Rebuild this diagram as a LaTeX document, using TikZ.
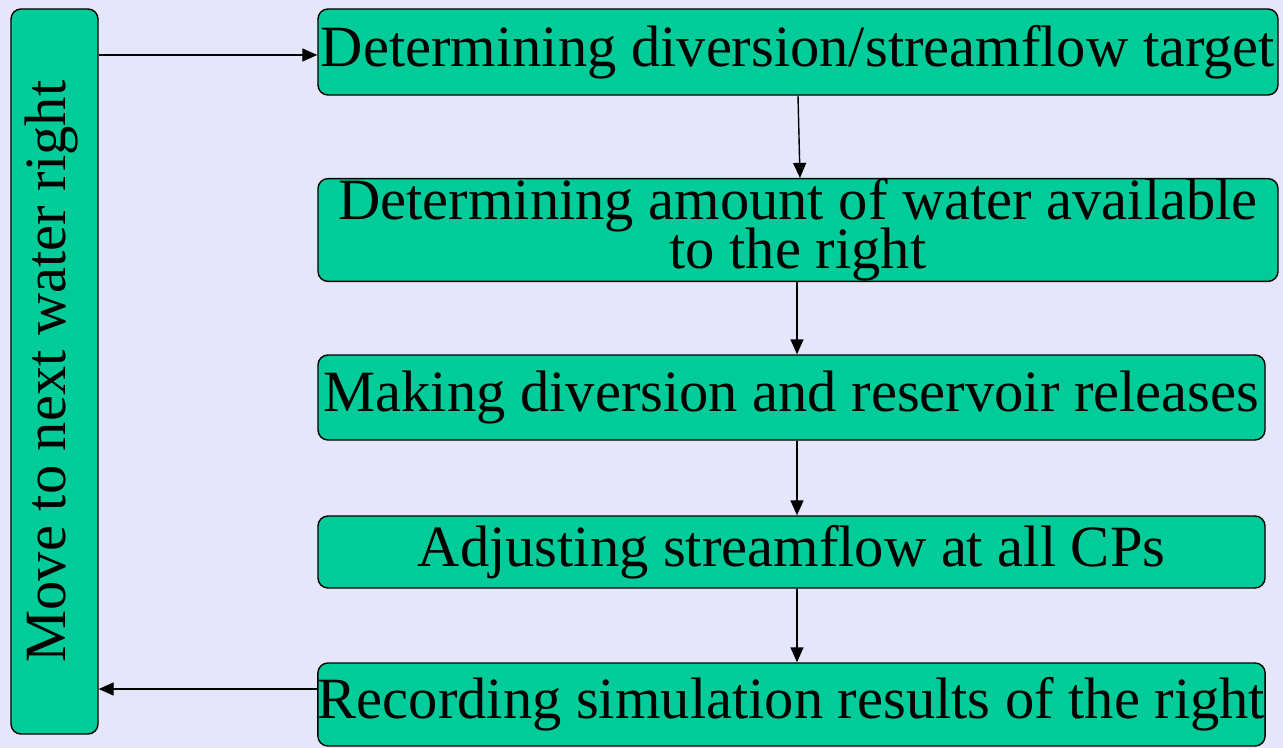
\documentclass[tikz,border=0pt]{standalone}
\usepackage{fontspec}
\setmainfont{Liberation Serif}
\usetikzlibrary{arrows.meta}
\definecolor{bg}{RGB}{230,230,250}
\definecolor{boxfill}{RGB}{0,204,153}
\newcommand{\tightlines}{\lineskiplimit=-100pt\relax}
\begin{document}
\begin{tikzpicture}[x=1bp,y=-1bp,
  stepbox/.style={draw=black,line width=1.4bp,fill=boxfill,rounded corners=10bp,
    inner sep=0pt,align=center,font=\fontsize{58.5bp}{49bp}\selectfont\tightlines},
  conn/.style={line width=1.4bp,-{Triangle[length=15bp,width=13bp]}}]
\fill[bg] (0,0) rectangle (1283,748);
\useasboundingbox (0,0) rectangle (1283,748);
\node[stepbox,minimum width=87bp,minimum height=725bp] (lb) at (54.5,371.5) {};
\node[rotate=90,inner sep=0pt,font=\fontsize{58.5bp}{49bp}\selectfont] (lbt) at (52,371.5) {Move to next water right};
\node[stepbox,minimum width=960bp,minimum height=86bp] (b1) at (798,52) {Determining diversion/streamflow target};
\node[stepbox,minimum width=960bp,minimum height=98bp] (b2) at (798,230) {Determining amount of water available\\to the right};
\node[stepbox,minimum width=947bp,minimum height=85bp] (b3) at (791.5,397.5) {Making diversion and reservoir releases};
\node[stepbox,minimum width=947bp,minimum height=72bp] (b4) at (791.5,552) {Adjusting streamflow at all CPs};
\node[stepbox,minimum width=947bp,minimum height=83bp] (b5) at (791.5,704.5) {Recording simulation results of the right};
\coordinate (t1) at ([yshift=-3bp]b1.west);
\draw[conn] (lb.east |- t1) -- (t1);
\draw[conn] (b1.south) -- ([xshift=2bp]b2.north);
\draw[conn] ([xshift=-1bp]b2.south) -- ([xshift=-1bp]b2.south |- b3.north);
\draw[conn] ([xshift=-1bp]b3.south -| b2.south) -- ([xshift=-1bp]b2.south |- b4.north);
\draw[conn] ([xshift=-1bp]b4.south -| b2.south) -- ([xshift=-1bp]b2.south |- b5.north);
\coordinate (t5) at ([yshift=15.5bp]b5.west);
\draw[conn] (t5) -- (t5 -| lb.east);
\end{tikzpicture}
\end{document}
